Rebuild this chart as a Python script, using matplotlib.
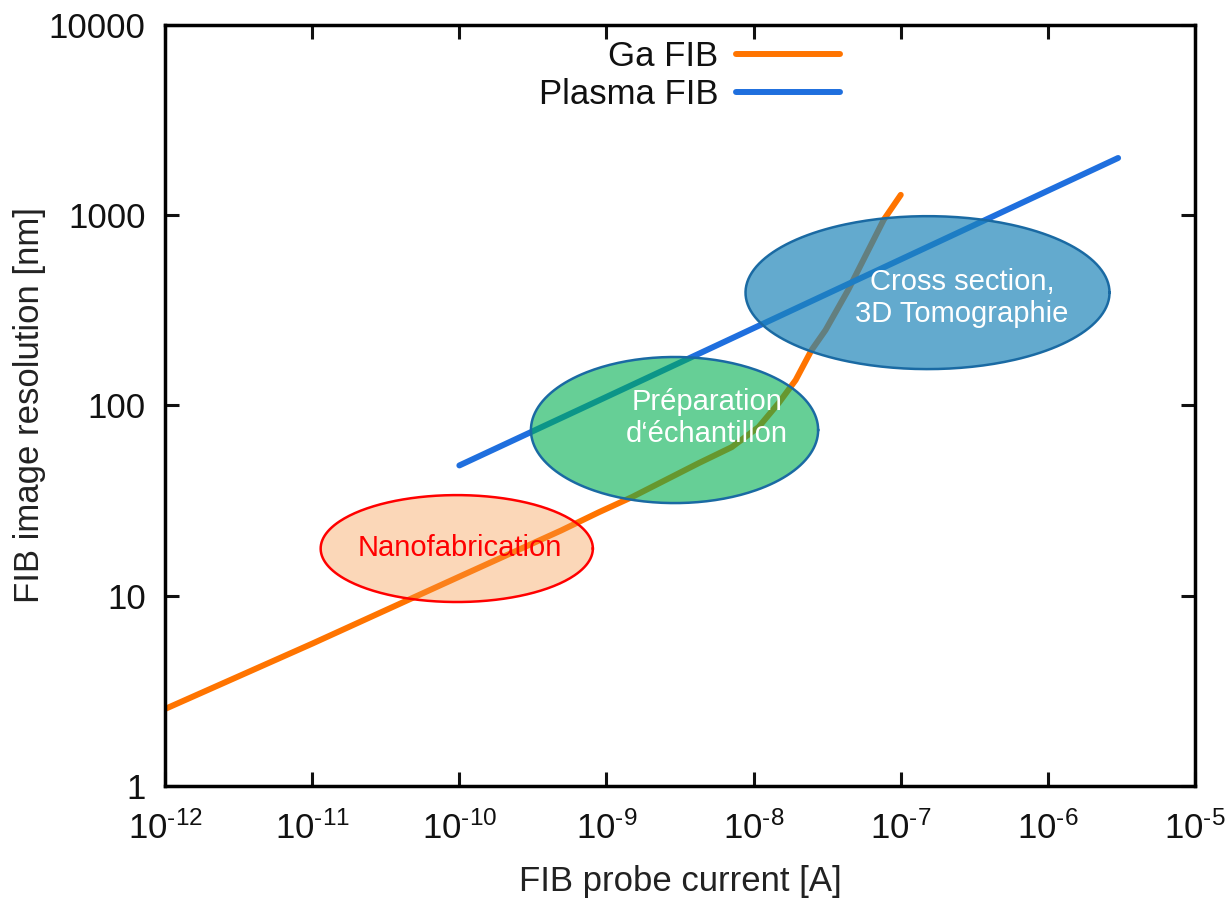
import numpy as np
import matplotlib
matplotlib.use("Agg")
import matplotlib.pyplot as plt

plt.rcParams['font.family'] = ['Liberation Sans', 'DejaVu Sans']
plt.rcParams['mathtext.fontset'] = 'custom'
plt.rcParams['mathtext.rm'] = 'Liberation Sans'
plt.rcParams['mathtext.it'] = 'Liberation Sans'

# Ga FIB (courant [A], résolution [nm])
ga_current = [1e-12, 1e-11, 1e-10, 4.9e-10, 8.9e-10, 1.49e-9, 4.24e-9, 7.1e-9, 1.08e-8,
              1.48e-8, 1.93e-8, 2.47e-8, 3.08e-8, 4.4e-8, 7.66e-8, 1e-7]
ga_res = [2.54, 5.6, 12.6, 22, 27.5, 33, 49.8, 60.4, 77, 103, 136, 195, 249, 406, 947, 1280]

# Plasma FIB
pl_current = [1e-10, 1e-9, 1e-8, 1e-7, 1e-6, 3e-6]
pl_res = [48.4, 111, 255, 586, 1346, 2000]

# zones : centre (courant, résolution), demi-axes en décades
zone_names = ["Nanofabrication", "Préparation\nd‘échantillon", "Cross section,\n3D Tomographie"]
zone_cx = [9.6e-11, 2.9e-9, 1.52e-7]
zone_cy = [17.7, 74.3, 392]
zone_ax = [0.925, 0.976, 1.237]
zone_ay = [0.281, 0.384, 0.402]
zone_tx = [1.0e-10, 4.8e-9, 2.6e-7]
zone_ty = [17.8, 86, 367]
zone_face = ['#f79646', '#00b050', '#1d84b9']
zone_alpha = [0.38, 0.6, 0.69]
zone_edge = ['#ff0000', '#1a6aa3', '#1a6aa3']
zone_text = ['#ff0000', 'white', 'white']

fig = plt.figure(figsize=(12.32, 9), dpi=100)
ax = fig.add_axes([0.134, 0.1267, 0.836, 0.8455])

ax.plot(ga_current, ga_res, color='#ff7400', lw=4.3, label='Ga FIB', solid_capstyle='round',
        solid_joinstyle='round')
ax.plot(pl_current, pl_res, color='#1f6fde', lw=4.3, label='Plasma FIB', solid_capstyle='round')

t = np.linspace(0, 2*np.pi, 300)
for i in range(3):
    lx = np.log10(zone_cx[i]) + zone_ax[i]*np.cos(t)
    ly = np.log10(zone_cy[i]) + zone_ay[i]*np.sin(t)
    ax.fill(10**lx, 10**ly, facecolor=zone_face[i], alpha=zone_alpha[i], lw=0, zorder=3)
    ax.plot(10**lx, 10**ly, color=zone_edge[i], lw=1.8, zorder=4)
    ax.text(zone_tx[i], zone_ty[i], zone_names[i], color=zone_text[i], fontsize=21,
            ha='center', va='center', zorder=5, linespacing=1.15)

ax.set_xscale('log')
ax.set_yscale('log')
ax.set_xlim(1e-12, 1e-5)
ax.set_ylim(1, 10000)

xt = [1e-12, 1e-11, 1e-10, 1e-9, 1e-8, 1e-7, 1e-6, 1e-5]
ax.set_xticks(xt)
ax.set_xticklabels(['$\\mathregular{10^{\u2010%d}}$' % -int(round(np.log10(v))) for v in xt])
yt = [1, 10, 100, 1000, 10000]
ax.set_yticks(yt)
ax.set_yticklabels([str(v) for v in yt])
ax.minorticks_off()

ax.tick_params(which='major', direction='in', length=10, width=2.2, labelsize=25,
               top=True, right=True, colors='#111111')
ax.tick_params(axis='x', pad=18)
ax.tick_params(axis='y', pad=14)
for s in ax.spines.values():
    s.set_linewidth(2.5)

ax.set_xlabel('FIB probe current [A]', fontsize=25, color='#222222', labelpad=14)
ax.set_ylabel('FIB image resolution [nm]', fontsize=25, color='#222222', labelpad=2)

leg = ax.legend(loc='upper right', bbox_to_anchor=(0.679, 1.012), frameon=False,
                markerfirst=False, fontsize=25, handlelength=3.0, labelspacing=0.14,
                handletextpad=0.5, borderaxespad=0.3)
for txt in leg.get_texts():
    txt.set_color('#111111')

fig.savefig('out.png', dpi=100)
